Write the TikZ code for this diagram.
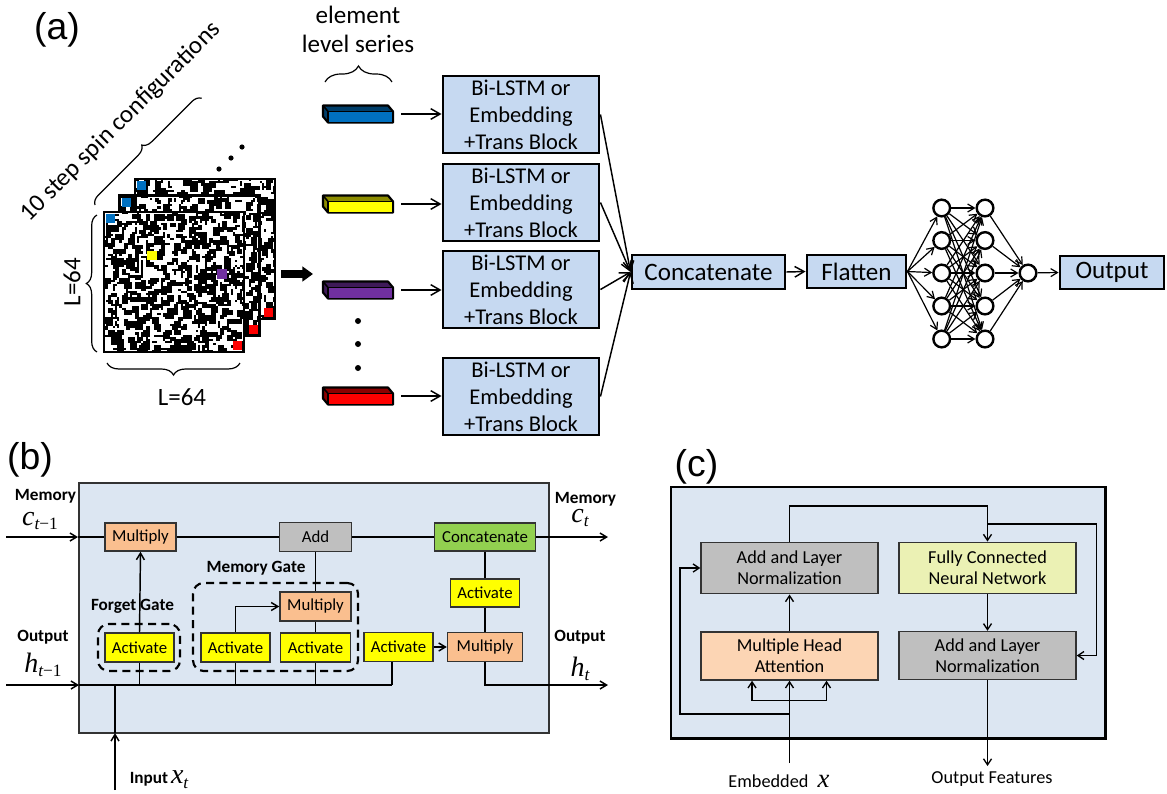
\documentclass[tikz,border=0pt]{standalone}
\usepackage{fontspec}
\setmainfont{Carlito}
\newfontfamily\arialfont{Liberation Sans}
\newfontfamily\timesfont{Liberation Serif}
\usetikzlibrary{arrows.meta,decorations.pathreplacing}
\definecolor{boxblue}{RGB}{198,217,241}
\definecolor{panelbg}{RGB}{220,230,242}
\definecolor{mulorange}{RGB}{250,191,143}
\definecolor{addgray}{RGB}{191,191,191}
\definecolor{catgreen}{RGB}{146,208,80}
\definecolor{actyellow}{RGB}{255,255,0}
\definecolor{fcyellow}{RGB}{235,241,180}
\definecolor{mhapeach}{RGB}{252,213,180}
\definecolor{barblue}{RGB}{0,112,192}
\definecolor{barpurple}{RGB}{112,48,160}
\definecolor{barred}{RGB}{255,0,0}
\definecolor{baryellow}{RGB}{255,255,0}
\newcommand\fsz[2]{\fontsize{#1}{#2}\selectfont}
\newcommand\tvar[2]{{\timesfont\itshape\fsz{21}{21}#1}\raisebox{-3.5pt}{\timesfont\fsz{13}{13}\itshape #2}}
\newcommand\elembar[3]{%
  \filldraw[fill=#3!55!black, draw=black, line width=1.6pt, line join=round]
    (323,#2-8.5) -- (388,#2-8.5) -- (393,#2-2.5) -- (393,#2+8.5) -- (328,#2+8.5) -- (323,#2+2.5) -- cycle;
  \filldraw[fill=#3, draw=black, line width=1.2pt] (328,#2-2.5) rectangle (393,#2+8.5);
  \draw[line width=1.2pt] (323,#2-8.5) -- (328,#2-2.5);
  \coordinate (#1) at (401,#2);
}
\newcommand\spinsq[3]{%
  \fill[white] (#1,#2) rectangle ++(140,140);
  \begin{scope}
    \clip (#1,#2) rectangle ++(140,140);
    \pgfmathsetseed{#3}
    \foreach \k in {1,...,820}{
      \pgfmathrandominteger{\rx}{0}{63}
      \pgfmathrandominteger{\ry}{0}{63}
      \pgfmathrandominteger{\rw}{1}{3}
      \pgfmathrandominteger{\rh}{1}{3}
      \fill[black] (#1+\rx*2.1875,#2+\ry*2.1875) rectangle ++(\rw*2.1875,\rh*2.1875);
    }
  \end{scope}
  \draw[line width=2.2pt] (#1,#2) rectangle ++(140,140);
  \fill[barblue] (#1+2,#2+2) rectangle ++(9,9);
  \fill[barred] (#1+129,#2+129) rectangle ++(9,9);
}
\tikzset{
  sz/.style 2 args={minimum width=#1*0.75pt, minimum height=#2*0.75pt},
  abox/.style={draw=black, line width=2.2pt, fill=boxblue, inner sep=0pt, align=center, font=\fsz{16.9}{20.3}},
  bigbox/.style={draw=black, line width=2.2pt, fill=boxblue, inner sep=0pt, font=\fsz{18.8}{22}},
  aarr/.style={-{Straight Barb[length=7pt,width=8pt]}, line width=1.1pt},
  neuron/.style={circle, draw=black, line width=1.8pt, fill=white, minimum size=12.5pt, inner sep=0pt},
  nnarr/.style={-{Straight Barb[length=5pt,width=6pt]}, line width=0.9pt},
  gbox/.style={draw=black!80, line width=1.1pt, inner sep=0pt, font=\fsz{12.6}{15}},
  mulb/.style={gbox, fill=mulorange},
  actb/.style={gbox, fill=actyellow},
  lbl/.style={font=\bfseries\fsz{12.9}{15}},
  barr/.style={-{Straight Barb[length=5pt,width=6pt]}, line width=1.1pt},
  bline/.style={line width=1.1pt},
  gate/.style={draw=black, dash pattern=on 6pt off 4pt, line width=1.6pt, rounded corners=8pt, inner sep=0pt},
  cbox/.style={draw=black!80, line width=1.1pt, inner sep=0pt, align=center, font=\fsz{13.7}{16}},
  carr/.style={-{Straight Barb[length=4.5pt,width=6pt]}, line width=1pt},
  cline/.style={line width=1pt},
  panellabel/.style={font=\arialfont\fsz{28}{30}},
  bracestyle/.style={decorate, line width=0.9pt},
}
\begin{document}
\begin{tikzpicture}[x=0.75pt,y=-0.75pt]
\useasboundingbox (0,0) rectangle (1167,793);

% ---------------- (a) ----------------
\node[panellabel] (la) at (57,30) {(a)};
\node[font=\fsz{18.8}{21.75}, align=center] (els) at (358,29.5) {element\\level series};
\draw[bracestyle, decoration={brace, amplitude=12pt}] (325,82) -- (392,82);

\spinsq{135}{179}{11}
\spinsq{119.5}{195.5}{23}
\spinsq{104}{212}{37}
\fill[baryellow] (147,251) rectangle ++(10,9);
\fill[barpurple] (217,269) rectangle ++(10,10);

\fill (219,169) circle (2.6) (231,158) circle (2.6) (242,147) circle (2.6);
\draw[bracestyle, decoration={brace, amplitude=7pt}] (95,205) -- (202,98);
\node[rotate=45, font=\fsz{18.7}{22}] (steps) at (121,122) {10 step spin configurations};
\draw[bracestyle, decoration={brace, amplitude=8pt}] (97,352) -- (97,215);
\node[rotate=90, font=\fsz{18.7}{22}] (lv) at (72,282) {L=64};
\draw[bracestyle, decoration={brace, amplitude=9pt}] (240,363) -- (107,363);
\node[font=\fsz{18.7}{22}] (lh) at (182,397) {L=64};

\coordinate (fa1) at (281,274);
\coordinate (fa2) at (313,274);
\draw[line width=5.5pt, -{Triangle[length=8pt,width=11pt]}] (fa1) -- (fa2);

\elembar{b1}{114}{barblue}
\elembar{b2}{204}{baryellow}
\elembar{b3}{290}{barpurple}
\elembar{b4}{396}{barred}
\fill (358,321) circle (3) (358,344) circle (3) (358,368) circle (3);

\node[abox, sz={156}{77}] (t1) at (521,114.5) {Bi-LSTM or\\Embedding\\+Trans Block};
\node[abox, sz={156}{77}] (t2) at (521,202.5) {Bi-LSTM or\\Embedding\\+Trans Block};
\node[abox, sz={156}{77}] (t3) at (521,289.5) {Bi-LSTM or\\Embedding\\+Trans Block};
\node[abox, sz={156}{77}] (t4) at (521,396.5) {Bi-LSTM or\\Embedding\\+Trans Block};
\draw[aarr] (b1) -- (b1 -| t1.west);
\draw[aarr] (b2) -- (b2 -| t2.west);
\draw[aarr] (b3) -- (b3 -| t3.west);
\draw[aarr] (b4) -- (b4 -| t4.west);

\node[bigbox, sz={153}{34}] (cat) at (708.5,272) {Concatenate};
\node[bigbox, sz={99}{33}] (flat) at (856.5,271.5) {Flatten};
\node[bigbox, sz={104}{33}] (outb) at (1112,272.5) {Output};
\draw[aarr] (t1.east) -- (cat.west);
\draw[aarr] (t2.east) -- (cat.west);
\draw[aarr] (t3.east) -- (cat.west);
\draw[aarr] (t4.east) -- (cat.west);
\draw[aarr] (cat.east) -- (flat.west);

\foreach \i/\yy in {1/208,2/240.5,3/273,4/306,5/339}{
  \node[neuron] (n\i) at (941.7,\yy) {};
  \node[neuron] (m\i) at (985,\yy) {};
}
\node[neuron] (o) at (1028,273) {};
\foreach \i in {1,...,5}{
  \draw[nnarr] (flat.east) -- (n\i);
  \foreach \j in {1,...,5}{ \draw[nnarr] (n\i) -- (m\j); }
  \draw[nnarr] (m\i) -- (o);
}
\draw[nnarr] (o) -- (outb.west);

% ---------------- (b) ----------------
\node[panellabel] (lb) at (30,460) {(b)};
\node[draw=black!80, line width=1.5pt, fill=panelbg, sz={470}{250}] (bpanel) at (314,608) {};

\node[mulb, sz={71}{28}] (mf) at (140.5,537) {Multiply};
\node[gbox, fill=addgray, sz={72}{29}] (add) at (315.5,537) {Add};
\node[gbox, fill=catgreen, sz={101}{28}] (cc) at (485,537) {Concatenate};
\node[gate, sz={82}{47}] (fg) at (139,647.5) {};
\node[gate, sz={165}{88}] (mg) at (275.5,627) {};
\node[actb, sz={69}{29}] (af) at (139.5,647.5) {Activate};
\node[actb, sz={69}{29}] (ai) at (235.5,647.5) {Activate};
\node[actb, sz={70}{29}] (ac) at (315.5,647.5) {Activate};
\node[mulb, sz={71}{29}] (mm) at (315.5,606.5) {Multiply};
\node[actb, sz={69}{29}] (ao) at (398.5,647) {Activate};
\node[actb, sz={69}{28}] (at) at (485,593) {Activate};
\node[mulb, sz={75}{29}] (mo) at (485,647) {Multiply};
\node[lbl] (fgl) at (132.5,606) {Forget Gate};
\node[lbl] (mgl) at (256,568) {Memory Gate};

\node[lbl] (meml) at (45.5,496) {Memory};
\node (cprev) at (40,521) {\tvar{c}{t\upshape−1}};
\node[lbl] (outl) at (43,637.5) {Output};
\node (hprev) at (43,665) {\tvar{h}{t\upshape−1}};
\node[lbl] (memr) at (585.5,499) {Memory};
\node (cnow) at (580,518) {\tvar{c}{t}};
\node[lbl] (outr) at (580,637.5) {Output};
\node (hnow) at (580,669) {\tvar{h}{t}};
\node (inl) at (159,779.5) {{\bfseries\fsz{12.9}{15}Input} \tvar{x}{t}};

\coordinate (cin) at (6,537);
\coordinate (cinb) at (bpanel.west |- mf.west);
\draw[barr] (cin) -- (cinb);
\draw[bline] (cinb) -- (mf.west) (mf.east) -- (add.west) (add.east) -- (cc.west);
\coordinate (cout) at (608,537);
\draw[barr] (cc.east) -- (cout);

\coordinate (hin) at (6,685);
\coordinate (hinb) at (79,685);
\coordinate (busend) at (392,685);
\draw[barr] (hin) -- (hinb);
\draw[bline] (hinb) -- (busend);
\coordinate (xin) at (115,790);
\coordinate (xinb) at (115,733);
\coordinate (xbus) at (115,685);
\draw[barr] (xin) -- (xinb);
\draw[bline] (xinb) -- (xbus);
\draw[bline] (af.south |- busend) -- (af.south);
\draw[barr] (af.north) -- (mf.south);
\draw[bline] (ai.south |- busend) -- (ai.south);
\draw[barr] (ai.north) |- (mm.west);
\draw[bline] (ac.south |- busend) -- (ac.south) (ac.north) -- (mm.south) (mm.north) -- (add.south);
\draw[bline] (busend) -- (busend |- ao.south);
\draw[barr] (ao.east) -- (mo.west);
\draw[bline] (cc.south) -- (at.north) (at.south) -- (mo.north);
\coordinate (hout) at (608,685);
\draw[barr] (mo.south) |- (hout);

% ---------------- (c) ----------------
\node[panellabel] (lc) at (696.5,467) {(c)};
\node[draw=black, line width=1.8pt, fill=panelbg, sz={434.5}{251.5}] (cpanel) at (888.25,612.75) {};
\node[cbox, fill=addgray, sz={177}{51.5}] (an1) at (789.5,568) {Add and Layer\\Normalization};
\node[cbox, fill=fcyellow, sz={177}{51.5}] (fc) at (987.5,568) {Fully Connected\\Neural Network};
\node[cbox, fill=mhapeach, sz={177}{48}] (mha) at (789.5,656) {Multiple Head\\Attention};
\node[cbox, fill=addgray, sz={177}{48}] (an2) at (987.5,655.5) {Add and Layer\\Normalization};
\node[font=\fsz{13.7}{16}] (embl) at (779,781) {Embedded\; {\timesfont\itshape\fsz{20}{20}x}};
\node[font=\fsz{13.7}{16}] (outf) at (992,779.5) {Output Features};

\coordinate (emb) at (789.5,763);
\draw[carr] (emb) -- (mha.south);
\coordinate (brl) at (752,700.5);
\coordinate (brr) at (826.5,700.5);
\draw[cline] (brl) -- (brr);
\draw[carr] (brl) -- (brl |- mha.south);
\draw[carr] (brr) -- (brr |- mha.south);
\coordinate (res) at (680,714);
\draw[carr] (emb |- res) -- (res) |- (an1.west);
\draw[carr] (mha.north) -- (an1.south);
\coordinate (topc) at (789.5,506);
\draw[carr] (an1.north) -- (topc) -| (fc.north);
\coordinate (sk) at (987.5,524);
\coordinate (skr) at (1096.5,524);
\draw[carr] (sk) -- (skr) |- (an2.east);
\draw[carr] (fc.south) -- (an2.north);
\coordinate (outc) at (987.5,766);
\draw[carr] (an2.south) -- (outc);
\end{tikzpicture}
\end{document}
